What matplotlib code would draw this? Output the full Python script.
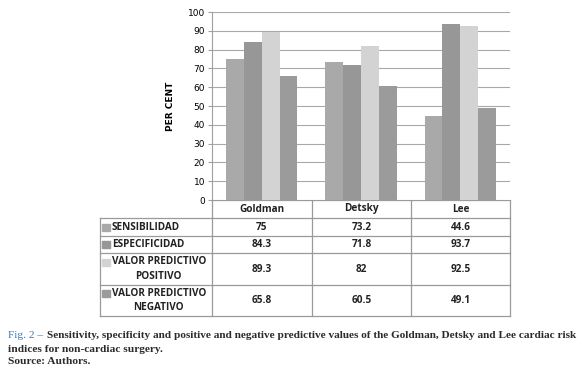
import matplotlib.pyplot as plt
import numpy as np

# Datos del gráfico
indices = ['Goldman', 'Detsky', 'Lee']
series = ['SENSIBILIDAD', 'ESPECIFICIDAD', 'VALOR PREDICTIVO\nPOSITIVO', 'VALOR PREDICTIVO\nNEGATIVO']
sensibilidad = [75, 73.2, 44.6]
especificidad = [84.3, 71.8, 93.7]
vpp = [89.3, 82, 92.5]
vpn = [65.8, 60.5, 49.1]
valores = [sensibilidad, especificidad, vpp, vpn]
etiquetas = [['75', '73.2', '44.6'], ['84.3', '71.8', '93.7'],
             ['89.3', '82', '92.5'], ['65.8', '60.5', '49.1']]
colores = ['#a9a9a9', '#979797', '#d3d3d3', '#9b9b9b']

W, H = 580, 373
fig = plt.figure(figsize=(W / 100, H / 100), dpi=100)

def px(x0, y0, x1, y1):
    return [x0 / W, 1 - y1 / H, (x1 - x0) / W, (y1 - y0) / H]

# Gráfica de barras
ax = fig.add_axes(px(212, 12, 510, 200))
x = np.arange(len(indices))
ancho = 0.18
for i, (vals, c) in enumerate(zip(valores, colores)):
    ax.bar(x + (i - 1.5) * ancho, vals, ancho, color=c, zorder=3)
ax.set_xlim(-0.5, 2.5)
ax.set_ylim(0, 100)
ax.set_yticks(range(0, 101, 10))
ax.tick_params(axis='y', labelsize=6.5, length=3, color='#a0a0a0', pad=2)
ax.set_xticks([])
ax.yaxis.grid(True, color='#a8a8a8', linewidth=0.8, zorder=0)
for s in ['top', 'right', 'bottom']:
    ax.spines[s].set_visible(False)
ax.spines['left'].set_color('#a0a0a0')
ax.set_ylabel('PER CENT', fontsize=6.5, fontweight='bold', labelpad=9)

# Tabla de datos debajo
tx = fig.add_axes(px(98, 200, 512, 320))
tx.set_xlim(98, 512)
tx.set_ylim(320, 200)
tx.axis('off')
cols = [212, 312, 411, 510]
filas = [218, 236, 253, 285, 316]
lc = '#9a9a9a'
tx.plot([212, 510], [200, 200], color=lc, lw=0.9)
for y in filas:
    tx.plot([100, 510], [y, y], color=lc, lw=0.9)
for xc in cols:
    tx.plot([xc, xc], [200, filas[-1]], color=lc, lw=0.9)
tx.plot([100, 100], [218, filas[-1]], color=lc, lw=0.9)
tfont = dict(fontsize=7.2, fontweight='bold', family='Open Sans', color='#222222')
for j, nombre in enumerate(indices):
    tx.text((cols[j] + cols[j + 1]) / 2, 209, nombre, ha='center', va='center', **tfont)
for i, nombre in enumerate(series):
    yc = (filas[i] + filas[i + 1]) / 2
    lineas = nombre.split('\n')
    if len(lineas) == 1:
        tx.add_patch(plt.Rectangle((102, yc - 3.5), 8, 7, color=colores[i]))
        tx.text(112, yc, nombre, ha='left', va='center', **tfont)
    else:
        tx.add_patch(plt.Rectangle((102, yc - 10.5), 8, 7, color=colores[i]))
        tx.text(112, yc - 7, lineas[0], ha='left', va='center', **tfont)
        tx.text(158, yc + 7.5, lineas[1], ha='center', va='center', **tfont)
    for j in range(len(indices)):
        tx.text((cols[j] + cols[j + 1]) / 2, yc, etiquetas[i][j], ha='center', va='center', **tfont)

# Pie de figura
cfont = dict(fontsize=8.2, fontweight='bold', family='Liberation Serif', color='#2b2b2b')
fig.canvas.draw()
rend = fig.canvas.get_renderer()
t = fig.text(8 / W, 1 - 335 / H, 'Fig. 2 \u2013', ha='left', va='center',
             **{**cfont, 'color': '#3f78b5', 'fontweight': 'normal'})
x0 = t.get_window_extent(renderer=rend).x1 + 4
linea1 = fig.text(x0 / W, 1 - 335 / H,
                  'Sensitivity, specificity and positive and negative predictive values of the Goldman, Detsky and Lee cardiac risk',
                  ha='left', va='center', **cfont)
ancho_txt = linea1.get_window_extent(renderer=rend).width
if x0 + ancho_txt > W - 2:
    linea1.set_fontsize(cfont['fontsize'] * (W - 2 - x0) / ancho_txt)
fig.text(8 / W, 1 - 349 / H, 'indices for non-cardiac surgery.', ha='left', va='center', **cfont)
fig.text(8 / W, 1 - 361 / H, 'Source: Authors.', ha='left', va='center', **cfont)

fig.savefig('out.png', dpi=100)
